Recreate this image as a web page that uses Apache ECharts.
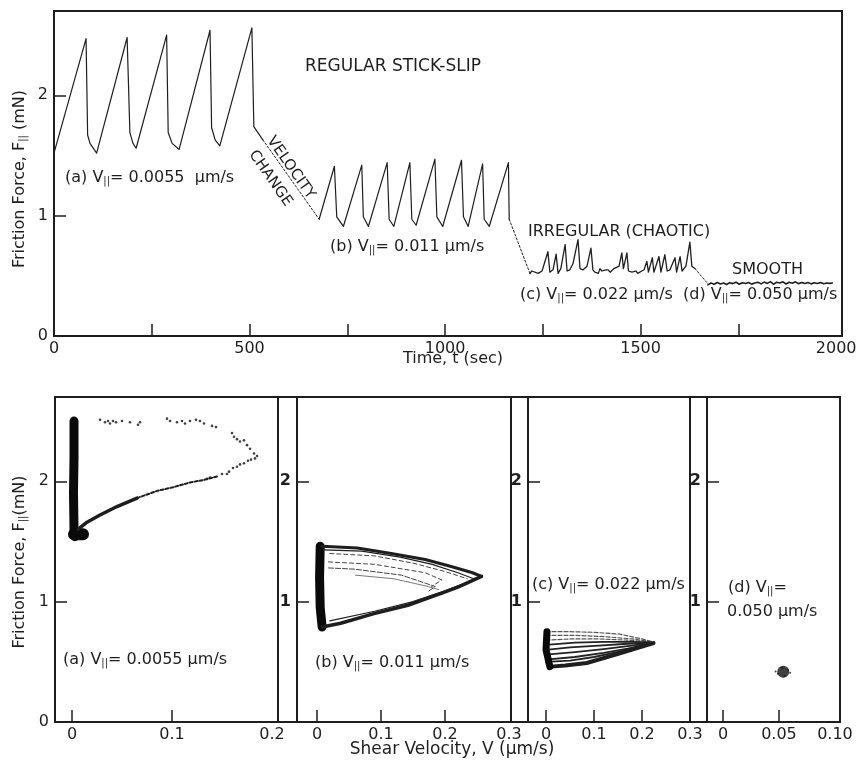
<!DOCTYPE html>
<html>
<head>
<meta charset="utf-8">
<script src="https://cdn.jsdelivr.net/npm/echarts@6/dist/echarts.min.js"></script>
<style>
  html, body { margin: 0; padding: 0; background: #fff; }
  #chart { width: 860px; height: 768px; }
</style>
</head>
<body>
<div id="chart"></div>
<script>
// ---- top panel: friction force vs time (t in sec, F in mN)
const segA = [[0, 1.52], [82, 2.47], [86, 1.67], [92, 1.60], [109, 1.52], [187, 2.48], [194, 1.69], [202, 1.60], [210, 1.56],
  [288, 2.50], [292, 1.69], [302, 1.60], [320, 1.55], [399, 2.54], [403, 1.73], [412, 1.63], [424, 1.58],
  [506, 2.56], [511, 1.74], [534, 1.63]]
const velChange = [[534, 1.63], [678, 0.97]]
const segB = [[678, 0.97], [717, 1.41], [723, 0.99], [740, 0.91], [787, 1.42], [791, 0.99], [804, 0.91],
  [852, 1.44], [857, 0.97], [869, 0.91], [910, 1.44], [915, 0.97], [926, 0.92], [974, 1.47], [979, 0.99], [994, 0.91],
  [1042, 1.46], [1047, 0.99], [1059, 0.91], [1096, 1.43], [1100, 0.97], [1113, 0.91], [1162, 1.44], [1164, 0.97]]
const transBC = [[1164, 0.97], [1217, 0.52]]
const segC = [[1217, 0.52], [1222, 0.54], [1227, 0.53], [1238, 0.52], [1248, 0.54], [1263, 0.70], [1268, 0.53], [1276, 0.55],
  [1284, 0.68], [1289, 0.52], [1296, 0.56], [1307, 0.76], [1312, 0.54], [1319, 0.55], [1327, 0.60], [1340, 0.80],
  [1345, 0.56], [1353, 0.55], [1363, 0.58], [1373, 0.73], [1378, 0.55], [1383, 0.53], [1388, 0.54], [1392, 0.52],
  [1396, 0.56], [1401, 0.54], [1406, 0.53], [1411, 0.55], [1417, 0.55], [1422, 0.53], [1427, 0.54], [1432, 0.56],
  [1437, 0.55], [1445, 0.58], [1452, 0.69], [1456, 0.56], [1465, 0.69], [1469, 0.54], [1474, 0.55], [1478, 0.53],
  [1483, 0.54], [1488, 0.54], [1493, 0.52], [1498, 0.52], [1503, 0.54], [1509, 0.55], [1516, 0.62], [1520, 0.53],
  [1530, 0.65], [1534, 0.53], [1547, 0.66], [1552, 0.53], [1562, 0.675], [1568, 0.54], [1575, 0.55], [1588, 0.65],
  [1592, 0.53], [1601, 0.66], [1606, 0.54], [1616, 0.58], [1626, 0.78], [1631, 0.58], [1639, 0.56]]
const transCD = [[1639, 0.56], [1673, 0.43]]
const segD = [[1672, 0.425], [1680, 0.44], [1688, 0.43], [1696, 0.445], [1704, 0.432], [1712, 0.44], [1720, 0.428],
  [1728, 0.443], [1736, 0.435], [1744, 0.447], [1752, 0.43], [1760, 0.442], [1768, 0.436], [1776, 0.445], [1784, 0.431],
  [1792, 0.44], [1800, 0.446], [1808, 0.433], [1816, 0.448], [1824, 0.437], [1832, 0.452], [1840, 0.43], [1848, 0.447],
  [1856, 0.44], [1864, 0.45], [1872, 0.432], [1880, 0.446], [1888, 0.438], [1896, 0.45], [1904, 0.434], [1912, 0.445],
  [1920, 0.437], [1928, 0.444], [1936, 0.433], [1944, 0.442], [1952, 0.436], [1960, 0.445], [1968, 0.434], [1976, 0.44],
  [1984, 0.437], [1990, 0.441]]

const timeTicks = [250, 500, 750, 1000, 1250, 1500, 1750]
const timeLabels = [0, 500, 1000, 1500, 2000]
const forceTicks = [1, 2]
const forceLabels = [0, 1, 2]

// ---- bottom panels: friction force vs shear velocity (V in um/s)
const velTicksA = [0, 0.1]
const velLabelsA = [0, 0.1, 0.2]
const velTicksBC = [0, 0.1, 0.2]
const velLabelsBC = [0, 0.1, 0.2, 0.3]
const velTicksD = [0, 0.05]
const velLabelsD = [0, 0.05, 0.1]

const bandA = [[0.002, 2.50], [0.002, 2.2], [0.0015, 1.9], [0.002, 1.6], [0.003, 1.54]]
const blobA = [[0.002, 1.56], [0.011, 1.56]]
const lowerA1 = [[0.006, 1.60], [0.015, 1.66], [0.028, 1.72], [0.045, 1.79], [0.065, 1.86]]
const lowerA2 = [[0.065, 1.86], [0.085, 1.92], [0.101, 1.95], [0.118, 1.99], [0.131, 2.01], [0.145, 2.04]]
const dotsA = [[0.028, 2.51], [0.033, 2.49], [0.036, 2.50], [0.038, 2.48], [0.041, 2.50], [0.044, 2.49], [0.05, 2.50],
  [0.058, 2.49], [0.066, 2.47], [0.068, 2.49], [0.095, 2.52], [0.098, 2.50], [0.105, 2.49], [0.11, 2.50], [0.113, 2.48],
  [0.118, 2.50], [0.124, 2.51], [0.128, 2.50], [0.132, 2.48], [0.14, 2.46], [0.144, 2.45], [0.16, 2.40], [0.162, 2.37],
  [0.165, 2.35], [0.168, 2.33], [0.172, 2.34], [0.175, 2.30], [0.178, 2.27], [0.182, 2.23], [0.185, 2.21], [0.183, 2.19],
  [0.179, 2.18], [0.176, 2.17], [0.172, 2.15], [0.168, 2.14], [0.165, 2.12], [0.161, 2.11], [0.157, 2.08], [0.155, 2.06],
  [0.15, 2.06], [0.138, 2.03], [0.135, 2.02]]

const bandB = [[0.005, 1.46], [0.004, 1.2], [0.005, 0.95], [0.008, 0.79]]
const topB = [[0.008, 1.46], [0.063, 1.445], [0.116, 1.40], [0.169, 1.35], [0.211, 1.29], [0.243, 1.24], [0.257, 1.21]]
const bottomB = [[0.008, 0.79], [0.037, 0.82], [0.089, 0.90], [0.142, 0.97], [0.195, 1.07], [0.222, 1.125], [0.257, 1.21]]
const topB2 = [[0.01, 1.43], [0.07, 1.42], [0.13, 1.37], [0.18, 1.31], [0.22, 1.24], [0.245, 1.19]]
const bottomB2 = [[0.02, 0.84], [0.09, 0.92], [0.15, 1.0], [0.20, 1.09], [0.235, 1.16], [0.25, 1.19]]
const innerB1 = [[0.02, 1.40], [0.09, 1.38], [0.15, 1.32], [0.20, 1.25], [0.235, 1.19]]
const innerB2 = [[0.018, 1.33], [0.09, 1.31], [0.169, 1.24], [0.195, 1.18], [0.179, 1.125]]
const innerB3 = [[0.018, 1.28], [0.058, 1.27], [0.132, 1.22], [0.185, 1.125], [0.175, 1.09]]
const innerB4 = [[0.06, 1.22], [0.12, 1.19], [0.17, 1.13], [0.19, 1.10]]

const bandC = [[0.002, 0.75], [0.0, 0.6], [0.008, 0.46]]
const fanC = [
  [[0.0, 0.75], [0.05, 0.75], [0.10, 0.745], [0.154, 0.73], [0.20, 0.69], [0.224, 0.665]],
  [[0.0, 0.72], [0.06, 0.72], [0.12, 0.71], [0.18, 0.69], [0.222, 0.665]],
  [[0.0, 0.68], [0.05, 0.69], [0.11, 0.69], [0.17, 0.68], [0.22, 0.665]],
  [[0.0, 0.64], [0.06, 0.66], [0.12, 0.665], [0.18, 0.665], [0.22, 0.662]],
  [[0.0, 0.60], [0.05, 0.62], [0.11, 0.635], [0.17, 0.65], [0.215, 0.66]],
  [[0.0, 0.56], [0.06, 0.58], [0.12, 0.605], [0.17, 0.63], [0.21, 0.65]],
  [[0.005, 0.52], [0.06, 0.54], [0.12, 0.575], [0.17, 0.61], [0.215, 0.65]],
  [[0.0, 0.50], [0.05, 0.51], [0.10, 0.54], [0.16, 0.59], [0.21, 0.64]]
]
const lowerC = [[0.01, 0.46], [0.04, 0.47], [0.085, 0.49], [0.154, 0.57], [0.224, 0.655]]

const blobD = [[0.0538, 0.417]]
const dotsD = [[0.047, 0.42], [0.06, 0.41], [0.053, 0.45], [0.055, 0.385], [0.049, 0.40], [0.058, 0.435]]

const FONT = '"DejaVu Sans", "Liberation Sans", sans-serif'
const INK = '#1e1e1e'
const chart = echarts.init(document.getElementById('chart'))

const grids = [
  { left: 54, top: 11, width: 788, height: 325 },
  { left: 55, top: 397, width: 223, height: 325 },
  { left: 297, top: 397, width: 214, height: 325 },
  { left: 528, top: 397, width: 162, height: 325 },
  { left: 707, top: 397, width: 133, height: 325 }
].map((g) => ({ ...g, show: true, borderColor: INK, borderWidth: 2, containLabel: false }))

const axisLine = { onZero: false, lineStyle: { color: INK, width: 2 } }

const xSpec = [
  { min: 0, max: 2015, ticks: timeTicks, labels: timeLabels, fmt: (v) => String(v) },
  { min: -0.017, max: 0.206, ticks: velTicksA, labels: velLabelsA, fmt: (v) => String(v) },
  { min: -0.03125, max: 0.3031, ticks: velTicksBC, labels: velLabelsBC, fmt: (v) => String(v) },
  { min: -0.0375, max: 0.3, ticks: velTicksBC, labels: velLabelsBC, fmt: (v) => String(v) },
  { min: -0.0143, max: 0.1045, ticks: velTicksD, labels: velLabelsD, fmt: (v) => (v === 0 ? '0' : v.toFixed(2)) }
]
// x tick labels are placed as graphic text below (see end of file); the axis itself draws line + ticks
const xAxes = xSpec.map((a, i) => ({
  type: 'value', gridIndex: i, min: a.min, max: a.max,
  axisLine, splitLine: { show: false },
  axisTick: { show: true, inside: true, length: 12, customValues: a.ticks, lineStyle: { color: INK, width: 1.5 } },
  axisLabel: { show: false }
}))

const yAxes = [0, 1, 2, 3, 4].map((i) => ({
  type: 'value', gridIndex: i, min: 0, max: 2.7,
  axisLine, splitLine: { show: false },
  axisTick: { show: true, inside: true, length: 12, customValues: forceTicks, lineStyle: { color: INK, width: 1.5 } },
  axisLabel: {
    customValues: i < 2 ? forceLabels : forceTicks,
    color: INK, fontFamily: FONT, fontSize: 16, margin: 6,
    fontWeight: i < 2 ? 'normal' : 'bold'
  }
}))

const series = []
const line = (data, gi, style) => {
  series.push({
    type: 'line', xAxisIndex: gi, yAxisIndex: gi, data, showSymbol: false, silent: true,
    lineStyle: { color: INK, width: 1.2, cap: 'round', join: 'round', ...style }
  })
}
const dots = (data, gi, size) => {
  series.push({
    type: 'scatter', xAxisIndex: gi, yAxisIndex: gi, data, symbolSize: size, silent: true,
    itemStyle: { color: '#111' }
  })
}

// top panel
line(segA, 0, { width: 1.2 })
line(velChange, 0, { width: 1, type: [2, 2] })
line(segB, 0, { width: 1.2 })
line(transBC, 0, { width: 1, type: [2, 2] })
line(segC, 0, { width: 1.3 })
line(transCD, 0, { width: 1, type: [2, 2] })
line(segD, 0, { width: 1.6 })

// panel (a)
line(bandA, 1, { width: 9, color: '#0a0a0a' })
line(blobA, 1, { width: 12, color: '#0a0a0a' })
line(lowerA1, 1, { width: 3.5 })
line(lowerA2, 1, { width: 2, type: [3, 2] })
dots(dotsA, 1, 2.6)

// panel (b)
line(bandB, 2, { width: 9, color: '#0a0a0a' })
line(topB, 2, { width: 3 })
line(bottomB, 2, { width: 3.5 })
line(topB2, 2, { width: 1.2 })
line(bottomB2, 2, { width: 1.2 })
line(innerB1, 2, { width: 1, type: [4, 3], color: '#444' })
line(innerB2, 2, { width: 1, type: [4, 3], color: '#444' })
line(innerB3, 2, { width: 1, type: [5, 2], color: '#444' })
line(innerB4, 2, { width: 0.8, color: '#555' })

// panel (c)
fanC.forEach((c, i) => line(c, 3, { width: i < 3 ? 1.2 : 1.8, type: i < 3 ? [4, 2] : 'solid', color: i < 3 ? '#555' : '#222' }))
line(lowerC, 3, { width: 4 })
line(bandC, 3, { width: 7, color: '#0a0a0a' })

// panel (d)
dots(dotsD, 4, 2)
dots(blobD, 4, 12)

const rich = { s: { fontSize: 10, fontFamily: FONT, fill: INK, verticalAlign: 'bottom', padding: [7, 0, 0, 0] } }
const txt = (text, x, y, size, rotation, align) => ({
  type: 'text', x, y, rotation: rotation || 0, silent: true,
  style: { text, font: `${size}px ${FONT}`, fill: INK, align: align || 'left', verticalAlign: 'middle', rich }
})
const V = 'V{s|||}'

const graphic = [
  // continuous top / bottom frame of the lower row
  { type: 'line', shape: { x1: 55, y1: 397, x2: 840, y2: 397 }, style: { stroke: INK, lineWidth: 2 } },
  { type: 'line', shape: { x1: 55, y1: 722, x2: 840, y2: 722 }, style: { stroke: INK, lineWidth: 2 } },
  // top panel annotations
  txt('REGULAR STICK-SLIP', 305, 67, 17),
  txt(`(a) ${V}= 0.0055  µm/s`, 65, 178, 16),
  txt('VELOCITY', 270, 138, 15, -0.96),
  txt('CHANGE', 252, 152, 15, -0.96),
  txt(`(b) ${V}= 0.011 µm/s`, 330, 247, 16),
  txt('IRREGULAR (CHAOTIC)', 528, 232, 16),
  txt('SMOOTH', 732, 270, 16),
  txt(`(c) ${V}= 0.022 µm/s`, 520, 295, 16),
  txt(`(d) ${V}= 0.050 µm/s`, 683, 295, 16),
  // bottom annotations
  txt(`(a) ${V}= 0.0055 µm/s`, 63, 660, 16),
  txt(`(b) ${V}= 0.011 µm/s`, 315, 663, 16),
  txt(`(c) ${V}= 0.022 µm/s`, 532, 585, 16),
  txt(`(d) ${V}=`, 728, 588, 16),
  txt('0.050 µm/s', 727, 612, 16),
  // axis titles
  txt('Friction Force, F{s|||} (mN)', 20, 179, 16, Math.PI / 2, 'center'),
  txt('Friction Force, F{s|||}(mN)', 20, 562, 16, Math.PI / 2, 'center'),
  txt('Time, t (sec)', 453, 359, 16, 0, 'center'),
  txt('Shear Velocity, V (µm/s)', 452, 750, 17, 0, 'center')
]

chart.setOption({
  animation: false,
  backgroundColor: '#fff',
  grid: grids,
  xAxis: xAxes,
  yAxis: yAxes,
  series,
  graphic: { elements: graphic }
})

// x tick labels, positioned from each axis scale once the chart is laid out
const labelEls = []
xSpec.forEach((a, i) => {
  const yBase = grids[i].top + grids[i].height
  a.labels.forEach((v) => {
    labelEls.push({
      type: 'text', silent: true,
      x: chart.convertToPixel({ xAxisIndex: i }, v), y: yBase + 5,
      style: { text: a.fmt(v), font: `16px ${FONT}`, fill: INK, align: 'center', verticalAlign: 'top' }
    })
  })
})
chart.setOption({ graphic: { elements: graphic.concat(labelEls) } })
</script>
</body>
</html>
